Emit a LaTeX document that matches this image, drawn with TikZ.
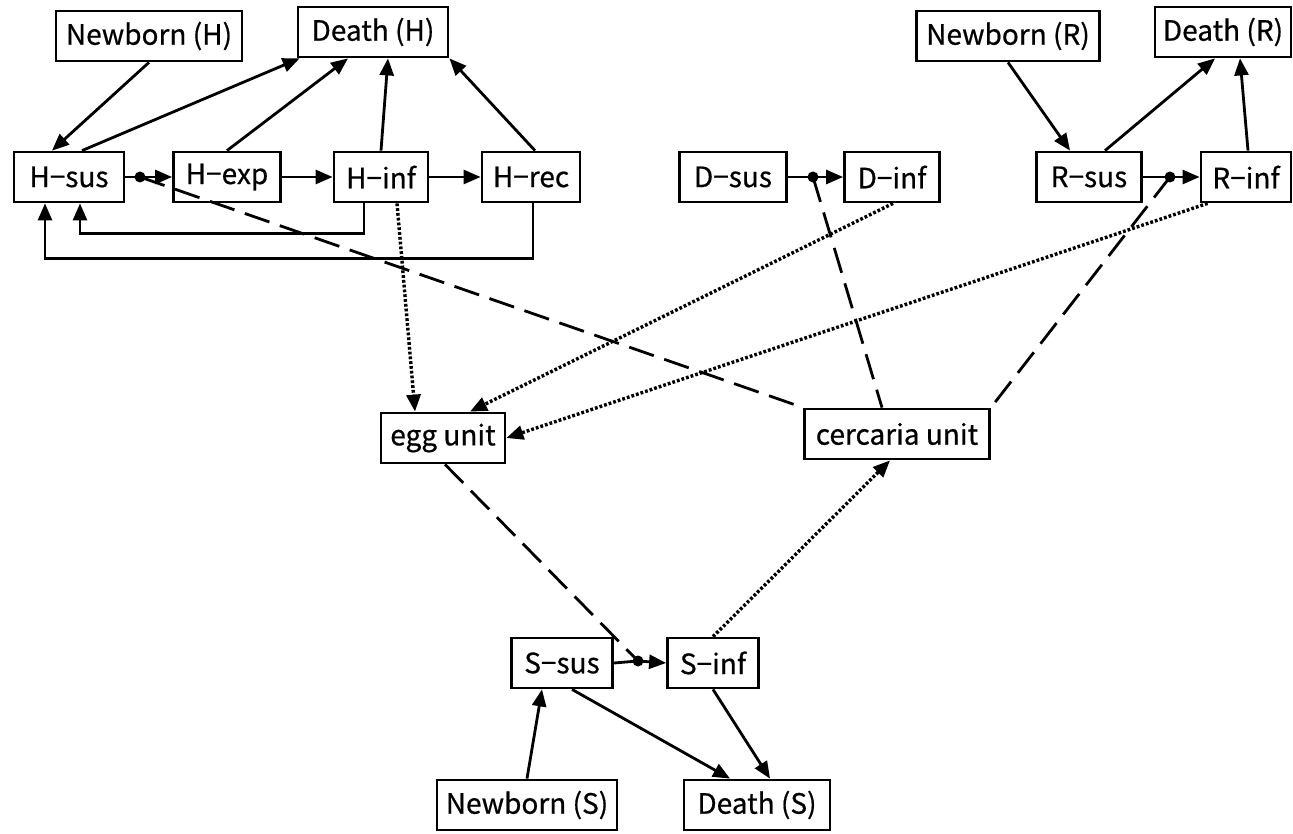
\documentclass[tikz,border=0pt]{standalone}
\usepackage{fontspec}
\setmainfont[FakeBold=1]{Noto Sans CJK JP}
\newfontfamily\boxfont[FakeBold=0.6]{Noto Sans CJK JP}
\usetikzlibrary{arrows.meta,calc}
\tikzset{
  box/.style={draw, line width=2.8pt, minimum height=50pt, inner sep=0pt, font=\boxfont\fontsize{28}{30}\selectfont},
  conn/.style={line width=2.8pt},
  arr/.style={conn, -{Triangle[length=17pt,width=14pt]}},
  dashline/.style={line width=2.8pt, dash pattern=on 26pt off 11pt},
  dotarr/.style={line width=3.4pt, dash pattern=on 2.8pt off 2.0pt, -{Triangle[length=17pt,width=14pt]}},
  jdot/.style={circle, fill, inner sep=0pt, minimum size=11pt}
}
\begin{document}
\begin{tikzpicture}[x=1pt,y=-1pt]
\useasboundingbox (0,0) rectangle (1293,834);
% host H
\node[box, minimum width=186pt] (nbH) at (149,36) {Newborn (H)};
\node[box, minimum width=150pt] (dH) at (373,32) {Death (H)};
\node[box, minimum width=110pt] (Hsus) at (69,177) {H−sus};
\node[box, minimum width=107pt] (Hexp) at (227,177) {H−exp};
\node[box, minimum width=94pt] (Hinf) at (381,177) {H−inf};
\node[box, minimum width=98pt] (Hrec) at (531,177) {H−rec};
% D
\node[box, minimum width=107pt] (Dsus) at (733,177) {D−sus};
\node[box, minimum width=95pt] (Dinf) at (892,177) {D−inf};
% R
\node[box, minimum width=183pt] (nbR) at (1008,36) {Newborn (R)};
\node[box, minimum width=136pt] (dR) at (1223,32) {Death (R)};
\node[box, minimum width=105pt] (Rsus) at (1089,177) {R−sus};
\node[box, minimum width=90pt] (Rinf) at (1246,177) {R−inf};
% units
\node[box, minimum width=124pt] (egg) at (443,438) {egg unit};
\node[box, minimum width=185pt] (cerc) at (897,434) {cercaria unit};
% snail
\node[box, minimum width=101pt] (Ssus) at (562,663) {S−sus};
\node[box, minimum width=91pt] (Sinf) at (713,663) {S−inf};
\node[box, minimum width=180pt] (nbS) at (527,805) {Newborn (S)};
\node[box, minimum width=146pt] (dS) at (757,805) {Death (S)};
% junction dots
\node[jdot] (jH) at (140,177) {};
\node[jdot] (jD) at (813,177) {};
\node[jdot] (jR) at (1170,177) {};
\node[jdot] (jS) at (638,661) {};

% H arrows
\draw[arr] (nbH.south) -- ([xshift=-17pt]Hsus.north);
\draw[arr] ([xshift=13pt]Hsus.north) -- ([xshift=3pt]dH.south west);
\draw[arr] (Hexp.north) -- ([xshift=-25pt]dH.south);
\draw[arr] (Hinf.north) -- ([xshift=15pt]dH.south);
\draw[arr] ([xshift=4pt]Hrec.north) -- (dH.south east);
\draw[conn] (Hsus.east) -- (jH.center);
\draw[arr] (jH.center) -- (Hexp.west);
\draw[arr] (Hexp.east) -- (Hinf.west);
\draw[arr] (Hinf.east) -- (Hrec.west);
\draw[arr] ([xshift=-17pt]Hinf.south) -- ++(0,30) -| ([xshift=11pt]Hsus.south);
\draw[arr] ([xshift=2pt]Hrec.south) -- ++(0,55) -| ([xshift=-24pt]Hsus.south);
% D
\draw[conn] (Dsus.east) -- (jD.center);
\draw[arr] (jD.center) -- (Dinf.west);
% R
\draw[arr] (nbR.south) -- ([xshift=-19pt]Rsus.north);
\draw[arr] ([xshift=16pt]Rsus.north) -- ([xshift=-8pt]dR.south);
\draw[arr] ([xshift=2pt]Rinf.north) -- ([xshift=17pt]dR.south);
\draw[conn] (Rsus.east) -- (jR.center);
\draw[arr] (jR.center) -- (Rinf.west);
% S
\draw[conn] (Ssus.east) -- (jS.center);
\draw[arr] (jS.center) -- (Sinf.west);
\draw[arr] (nbS.north) -- ([xshift=-20pt]Ssus.south);
\draw[arr] ([xshift=10pt]Ssus.south) -- ([xshift=-27pt]dS.north);
\draw[arr] (Sinf.south) -- ([xshift=13pt]dS.north);

% dashed infection links
\draw[dashline] (jH.center) -- (cerc.north west);
\draw[dashline] (jD.center) -- ([xshift=-15pt]cerc.north);
\draw[dashline] (jR.center) -- (cerc.north east);
\draw[dashline] ([xshift=2pt]egg.south) -- (jS.center);

% dotted shedding links
\draw[dotarr] ([xshift=16pt]Hinf.south) -- ([xshift=-28pt]egg.north);
\draw[dotarr] ([xshift=1pt]Dinf.south) -- ([xshift=27pt]egg.north);
\draw[dotarr] ([xshift=8pt]Rinf.south west) -- (egg.east);
\draw[dotarr] (Sinf.north) -- ([xshift=-7pt]cerc.south);
\end{tikzpicture}
\end{document}
